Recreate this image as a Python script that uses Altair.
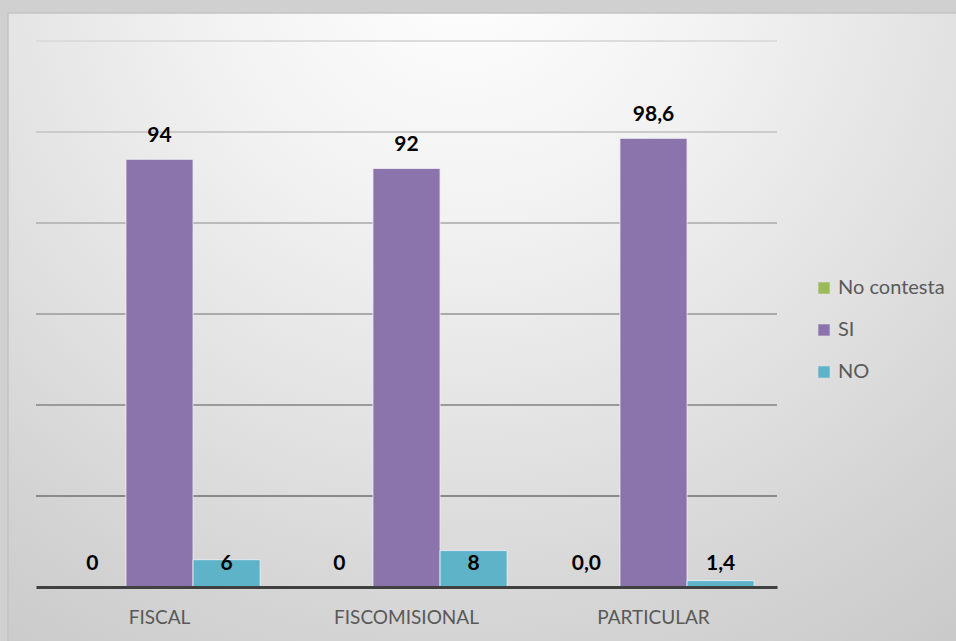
import altair as alt
import pandas as pd

categorias = ["FISCAL", "FISCOMISIONAL", "PARTICULAR"]
series = ["No contesta", "SI", "NO"]
no_contesta = [0, 0, 0]
si = [94, 92, 98.6]
no = [6, 8, 1.4]
etiquetas_no_contesta = ["0", "0", "0,0"]
etiquetas_si = ["94", "92", "98,6"]
etiquetas_no = ["6", "8", "1,4"]
colores = ["#9BBB59", "#8B74AB", "#5EB3C9"]
gridlines = [20, 40, 60, 80, 100, 120]

rows = []
for i, c in enumerate(categorias):
    rows.append({"cat": c, "serie": "No contesta", "valor": no_contesta[i], "etq": etiquetas_no_contesta[i]})
    rows.append({"cat": c, "serie": "SI", "valor": si[i], "etq": etiquetas_si[i]})
    rows.append({"cat": c, "serie": "NO", "valor": no[i], "etq": etiquetas_no[i]})
df = pd.DataFrame(rows)

W, H = 741, 546
FONT = "Lato"

yscale = alt.Scale(domain=[0, 120], nice=False)
xscale = alt.Scale(domain=categorias, paddingInner=0.185, paddingOuter=0.0925)

bg = alt.Chart(pd.DataFrame({"a": [1]})).mark_rect(
    fill=alt.RadialGradient(
        gradient="radial",
        x1=0.47, y1=0.1, r1=0,
        x2=0.47, y2=0.1, r2=0.9,
        stops=[
            alt.GradientStop(color="#ffffff", offset=0),
            alt.GradientStop(color="#f2f2f2", offset=0.3),
            alt.GradientStop(color="#e0e0e0", offset=0.6),
            alt.GradientStop(color="#d3d3d3", offset=0.8),
            alt.GradientStop(color="#c8c8c8", offset=1),
        ],
    ),
    stroke="#c4c4c4",
    strokeWidth=1.5,
).encode(
    x=alt.value(-28), x2=alt.value(W + 200), y=alt.value(-28), y2=alt.value(H + 80)
)

grid = alt.Chart(pd.DataFrame({"v": gridlines})).mark_rule(strokeWidth=2).encode(
    y=alt.Y("v:Q", scale=yscale, axis=None),
    stroke=alt.Stroke("v:Q", scale=alt.Scale(domain=[20, 120], range=["#8a8a8a", "#dcdcdc"]), legend=None),
)

bars = alt.Chart(df).mark_bar(stroke="#f2f2f6", strokeWidth=1, strokeOpacity=0.8).encode(
    x=alt.X("cat:N", scale=xscale, sort=categorias,
            axis=alt.Axis(title=None, labelAngle=0, ticks=False, domainColor="#404040", domainWidth=3,
                          labelColor="#595959", labelFont=FONT, labelFontSize=19, labelPadding=21,
                          grid=False, zindex=1)),
    xOffset=alt.XOffset("serie:N", sort=series, scale=alt.Scale(paddingInner=0, paddingOuter=0)),
    y=alt.Y("valor:Q", scale=yscale, axis=None),
    color=alt.Color("serie:N", sort=series, scale=alt.Scale(domain=series, range=colores),
                    legend=alt.Legend(title=None, orient="none", legendX=778, legendY=237,
                                      symbolType="square", symbolSize=130, symbolStrokeWidth=0,
                                      labelFont=FONT, labelFontSize=20, labelColor="#595959",
                                      rowPadding=22, labelOffset=4)),
)

labels = alt.Chart(df).transform_calculate(
    pos="datum.serie == 'NO' ? 0 : datum.valor"
).mark_text(fontWeight="bold", font=FONT, fontSize=21, color="#000000", baseline="middle", dy=-23).encode(
    x=alt.X("cat:N", scale=xscale, sort=categorias),
    xOffset=alt.XOffset("serie:N", sort=series),
    y=alt.Y("pos:Q", scale=yscale),
    text="etq:N",
)

chart = alt.layer(bg, grid, bars, labels).properties(
    width=W, height=H,
    autosize=alt.AutoSizeParams(type="none"),
    padding={"left": 36, "top": 41, "right": 179, "bottom": 54},
).configure_view(stroke=None).configure(background="#d0d0d0")

chart.save("out.html", embed_options={"renderer": "svg", "actions": False})
